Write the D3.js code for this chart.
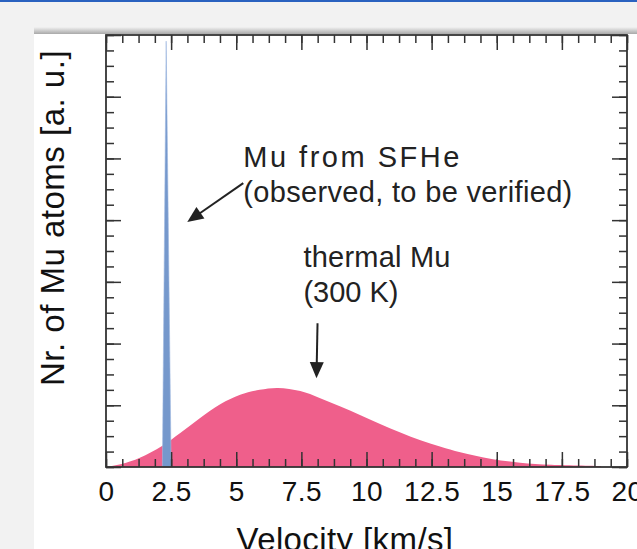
<!DOCTYPE html>
<html><head><meta charset="utf-8">
<script src="https://cdn.jsdelivr.net/npm/d3@7"></script>
<style>html,body{margin:0;padding:0;background:#f2f2f2;overflow:hidden}</style>
</head><body><svg id="c" width="637" height="549"></svg>
<script>
// ---- data ----
const thermalV = [0, 0.6, 1.3, 2.15, 2.85, 3.6, 4.4, 5.15, 5.9, 6.6, 7.46, 8.2, 9.0, 9.77, 10.5, 11.3, 12.1, 12.85, 13.6, 14.8, 15.9, 17.1, 19.0];
const thermalN = [0, 0.05, 0.15, 0.34, 0.55, 0.79, 1.02, 1.17, 1.25, 1.28, 1.23, 1.12, 0.98, 0.84, 0.70, 0.56, 0.43, 0.33, 0.24, 0.13, 0.07, 0.035, 0.015];
const sfheV = [2.165, 2.31, 2.5];
const sfheN = [0, 6.9, 0];
const xTicks = [0, 2.5, 5, 7.5, 10, 12.5, 15, 17.5, 20];
const xTickLabels = ["0", "2.5", "5", "7.5", "10", "12.5", "15", "17.5", "20"];
const yMajorTicks = [0, 1, 2, 3, 4, 5, 6, 7];
const xLabel = "Velocity [km/s]";
const yLabel = "Nr. of Mu atoms [a. u.]";
const annotations = [
  {lines: ["Mu from SFHe", "(observed, to be verified)"], widths: [216, 329], v: 5.27, n: 4.86, tail: [5.27, 4.60], tip: [3.12, 3.97]},
  {lines: ["thermal Mu", "(300 K)"], widths: [147, 95], v: 7.58, n: 3.24, tail: [8.12, 2.33], tip: [8.08, 1.44]}
];

// ---- layout ----
const W = 637, H = 549;
const L = 106, R = 627, T = 35, B = 467;
const svg = d3.select("#c");
const font = "'Helvetica Neue', Helvetica, Arial, 'Liberation Sans', sans-serif";

// page background & card
svg.append("rect").attr("width", W).attr("height", H).attr("fill", "#f2f2f2");
const defs = svg.append("defs");
const g1 = defs.append("linearGradient").attr("id", "sh").attr("x1", 0).attr("y1", 0).attr("x2", 0).attr("y2", 1);
g1.append("stop").attr("offset", 0).attr("stop-color", "#f2f2f2");
g1.append("stop").attr("offset", 1).attr("stop-color", "#a9a9a9");
svg.append("rect").attr("x", 34).attr("y", 27).attr("width", W - 34).attr("height", 7).attr("fill", "url(#sh)");
svg.append("rect").attr("x", 34).attr("y", 34).attr("width", W - 34).attr("height", H - 34).attr("fill", "#fff");
svg.append("rect").attr("x", 0).attr("y", 0).attr("width", W).attr("height", 2).attr("fill", "#2a62c0");

const x = d3.scaleLinear().domain([0, 20]).range([L, R]);
const y = d3.scaleLinear().domain([0, 7]).range([B, T]);

// thermal distribution
const thermal = thermalV.map((v, i) => [v, thermalN[i]]);
svg.append("path").datum(thermal)
  .attr("fill", "#ef5f8b")
  .attr("d", d3.area().x(d => x(d[0])).y0(y(0)).y1(d => y(Math.max(0, d[1]))).curve(d3.curveCatmullRom.alpha(0.5)));

// SFHe spike
const sfhe = sfheV.map((v, i) => [v, sfheN[i]]);
svg.append("path").datum(sfhe)
  .attr("fill", "#7598cc").attr("stroke", "#9fb8e0").attr("stroke-width", 0.6)
  .attr("d", d3.area().x(d => x(d[0])).y0(y(0)).y1(d => y(d[1])).curve(d3.curveLinear));

// axes with inward ticks
const minorX = d3.range(0, 20.001, 0.625);
const minorY = d3.range(0, 7.001, 0.25);
function styleAxis(g) {
  g.select(".domain").remove();
  g.selectAll("line").attr("stroke", "#333").attr("stroke-width", 1.5);
}
svg.append("g").attr("transform", `translate(0,${B})`)
  .call(d3.axisBottom(x).tickValues(minorX).tickSize(-8).tickFormat("")).call(styleAxis);
svg.append("g").attr("transform", `translate(0,${T})`)
  .call(d3.axisTop(x).tickValues(minorX).tickSize(-8).tickFormat("")).call(styleAxis);
svg.append("g").attr("transform", `translate(${L},0)`)
  .call(d3.axisLeft(y).tickValues(minorY).tickSize(-8).tickFormat("")).call(styleAxis);
svg.append("g").attr("transform", `translate(${R},0)`)
  .call(d3.axisRight(y).tickValues(minorY).tickSize(-8).tickFormat("")).call(styleAxis);

const xb = svg.append("g").attr("transform", `translate(0,${B})`)
  .call(d3.axisBottom(x).tickValues(xTicks).tickSize(-15).tickPadding(14).tickFormat((d, i) => xTickLabels[i]));
styleAxis(xb);
xb.selectAll("text").attr("font-family", font).attr("font-size", 28).attr("fill", "#111").attr("letter-spacing", "0.5px");
svg.append("g").attr("transform", `translate(0,${T})`)
  .call(d3.axisTop(x).tickValues(xTicks).tickSize(-15).tickFormat("")).call(styleAxis);
svg.append("g").attr("transform", `translate(${L},0)`)
  .call(d3.axisLeft(y).tickValues(yMajorTicks).tickSize(-15).tickFormat("")).call(styleAxis);
svg.append("g").attr("transform", `translate(${R},0)`)
  .call(d3.axisRight(y).tickValues(yMajorTicks).tickSize(-15).tickFormat("")).call(styleAxis);

// frame
svg.append("rect").attr("x", L).attr("y", T).attr("width", R - L).attr("height", B - T)
  .attr("fill", "none").attr("stroke", "#333").attr("stroke-width", 1.8);

// axis titles
svg.append("text").attr("x", 345).attr("y", 551).attr("text-anchor", "middle")
  .attr("font-family", font).attr("font-size", 33).attr("fill", "#111").attr("letter-spacing", "0.4px").text(xLabel);
svg.append("text").attr("transform", "translate(64,218) rotate(-90)").attr("text-anchor", "middle")
  .attr("font-family", font).attr("font-size", 33).attr("fill", "#111").attr("letter-spacing", "0.5px").text(yLabel);

// annotations
annotations.forEach(a => {
  a.lines.forEach((ln, i) => {
    svg.append("text").attr("font-family", font).attr("font-size", 29).attr("fill", "#222")
      .attr("x", x(a.v)).attr("y", y(a.n) + i * 35)
      .attr("textLength", a.widths[i]).attr("lengthAdjust", "spacing").text(ln);
  });
  const x1 = x(a.tail[0]), y1 = y(a.tail[1]), x2 = x(a.tip[0]), y2 = y(a.tip[1]);
  const dx = x2 - x1, dy = y2 - y1, len = Math.hypot(dx, dy);
  const ux = dx / len, uy = dy / len, hl = 16, hw = 7;
  const bx = x2 - ux * hl, by = y2 - uy * hl;
  svg.append("line").attr("x1", x1).attr("y1", y1).attr("x2", bx + ux * 2).attr("y2", by + uy * 2)
    .attr("stroke", "#222").attr("stroke-width", 2);
  svg.append("path").attr("fill", "#222")
    .attr("d", `M${x2},${y2}L${bx - uy * hw},${by + ux * hw}L${bx + uy * hw},${by - ux * hw}Z`);
});
</script></body></html>
